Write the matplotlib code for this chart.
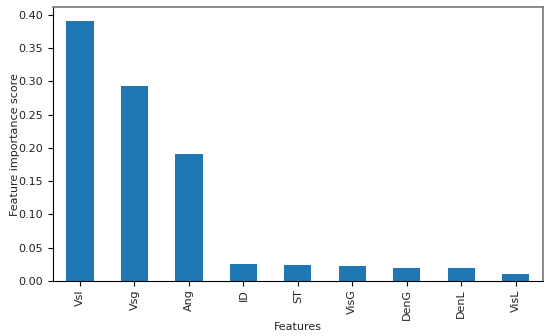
import matplotlib
matplotlib.use("Agg")
import matplotlib.pyplot as plt
import numpy as np

features = ['Vsl', 'Vsg', 'Ang', 'ID', 'ST', 'VisG', 'DenG', 'DenL', 'VisL']
scores = [0.391, 0.293, 0.190, 0.026, 0.0245, 0.022, 0.0196, 0.0196, 0.011]

fig = plt.figure(figsize=(5.5, 3.36), dpi=100)
ax = fig.add_axes([0.096, 0.164, 0.891, 0.814])

index = np.arange(len(features))
ax.bar(index, scores, 0.5, color='#1f77b4')
ax.set_xlim(-0.5, len(features) - 0.5)
ax.set_ylim(0, 0.411)
ticks = np.arange(0, 0.41, 0.05)
ax.set_yticks(ticks)
ax.set_yticklabels(['{:.2f}'.format(v) for v in ticks])
ax.set_xticks(index)
ax.set_xticklabels(features, rotation=90)
ax.tick_params(labelsize=8, length=3.5, labelcolor='#222222')
ax.tick_params(axis='x', pad=2.5)
ax.set_xlabel('Features', fontsize=8, color='#222222', labelpad=1)
ax.set_ylabel('Feature importance score', fontsize=8, color='#222222',
              labelpad=-1)
for side in ['top', 'right']:
    ax.spines[side].set_color('#777777')
    ax.spines[side].set_linewidth(1.2)

fig.savefig('out.png')
